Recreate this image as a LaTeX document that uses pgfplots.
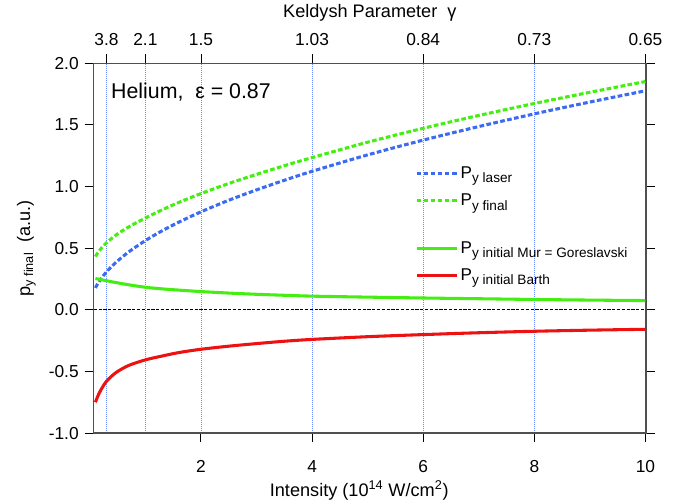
\documentclass[border=0pt]{standalone}
\usepackage{fontspec}
\setmainfont{Liberation Sans}
\usepackage{pgfplots}
\usepackage{pgfplotstable}
\pgfplotsset{compat=1.18}
\usetikzlibrary{calc}

\definecolor{cblue}{HTML}{3A6BF0}
\definecolor{cgreen}{HTML}{44EE11}
\definecolor{cred}{HTML}{EE1111}
\definecolor{cgrid}{HTML}{6A88FF}
\definecolor{cframe}{HTML}{505050}

% intensity (1e14 W/cm2), p_y laser, p_y final, p_y initial (Mur), p_y initial (Barth)
\pgfplotstableread{
I     laser  final  mur    barth
0.10  0.178  0.432  0.254  -0.750
0.15  0.218  0.468  0.250  -0.694
0.20  0.251  0.496  0.245  -0.649
0.29  0.303  0.540  0.237  -0.585
0.40  0.355  0.582  0.227  -0.535
0.50  0.397  0.616  0.219  -0.500
0.70  0.470  0.673  0.203  -0.451
1.00  0.562  0.745  0.183  -0.406
1.30  0.641  0.811  0.170  -0.375
1.60  0.711  0.871  0.160  -0.347
2.00  0.795  0.943  0.148  -0.320
2.50  0.889  1.025  0.136  -0.295
3.00  0.973  1.099  0.126  -0.274
3.50  1.051  1.169  0.118  -0.255
4.00  1.124  1.235  0.111  -0.240
5.00  1.257  1.360  0.103  -0.218
6.00  1.377  1.473  0.096  -0.201
7.00  1.487  1.577  0.090  -0.186
8.00  1.590  1.674  0.084  -0.174
9.00  1.686  1.765  0.079  -0.165
10.00 1.777  1.852  0.075  -0.158
}\pytab

\begin{document}
\begin{tikzpicture}
\pgfplotsset{
  common/.style={
    width=414.2pt, height=277.3pt, scale only axis,
    xmin=0.07, xmax=10.01, ymin=-1, ymax=2,
    tick align=outside, major tick length=6.75pt,
    every tick/.style={black, line width=0.7pt},
    axis line style={cframe, line width=0.9pt},
    tick label style={font=\fontsize{13}{15}\selectfont},
    label style={font=\fontsize{13.6}{16}\selectfont},
  },
}
% top axis: Keldysh parameter and grid lines
\begin{axis}[common,
  axis x line*=top, axis y line=none,
  xtick={0.3,1,2,4,6,8,10},
  xticklabels={3.8,2.1,1.5,1.03,0.84,0.73,0.65},
  xticklabel shift=3pt,
  xmajorgrids,
  grid style={cgrid, line width=0.5pt, dash pattern=on 0.5pt off 1pt},
  xlabel={Keldysh Parameter\ \ γ},
  xlabel style={at={(axis description cs:0.5,1)}, anchor=center, yshift=38pt},
]
\addplot[draw=none, forget plot] coordinates {(1,0)};
\end{axis}

\begin{axis}[common, name=main,
  xtick={2,4,6,8,10}, xticklabels={2,4,6,8,10}, xtick pos=bottom,
  xticklabel shift=10pt,
  ytick={-1,-0.5,0,0.5,1,1.5,2},
  yticklabels={-1.0,-0.5,0.0,0.5,1.0,1.5,2.0},
  ytick pos=both, yticklabel pos=left, yticklabel shift=1pt,
  xlabel={Intensity (10\textsuperscript{14} W/cm\textsuperscript{2})},
  xlabel style={at={(axis description cs:0.5,0)}, anchor=center, yshift=-42.75pt, xshift=-8pt},
  ylabel={p\textsubscript{y final}\ \ (a.u.)},
  ylabel style={at={(axis description cs:-0.122,0.5)}, anchor=center},
  legend image code/.code={\draw[#1] (0pt,0pt) -- (30pt,0pt);},
  legend style={at={(axis description cs:0.574,0.735)}, anchor=north west,
    draw=none, fill=none, row sep=6pt,
    font=\fontsize{12.8}{14}\selectfont},
  legend cell align=left,
]
\addplot[black, line width=0.6pt, dash pattern=on 2.4pt off 1.2pt, forget plot]
  coordinates {(0.07,0) (10.01,0)};
\addplot[cblue, line width=2.3pt, dash pattern=on 3.5pt off 1.8pt, smooth]
  table[x=I, y=laser] {\pytab};
\addlegendentry{P\textsubscript{\fontsize{10.2}{12}\selectfont y laser}}
\addplot[cgreen, line width=2.3pt, dash pattern=on 3.5pt off 1.8pt, smooth]
  table[x=I, y=final] {\pytab};
\addlegendentry{P\textsubscript{\fontsize{10.2}{12}\selectfont y final}}
\addlegendimage{empty legend}
\addlegendentry{\rule{0pt}{4pt}}
\addplot[cgreen, line width=2.3pt, smooth]
  table[x=I, y=mur] {\pytab};
\addlegendentry{P\textsubscript{\fontsize{10.2}{12}\selectfont y initial Mur = Goreslavski}}
\addplot[cred, line width=2.3pt, smooth]
  table[x=I, y=barth] {\pytab};
\addlegendentry{P\textsubscript{\fontsize{10.2}{12}\selectfont y initial Barth}}
\node[anchor=west, inner sep=0pt, font=\fontsize{16}{19}\selectfont] at (axis cs:0.38,1.767) {Helium,\ \ ε = 0.87};
\end{axis}

\pgfresetboundingbox
\path[use as bounding box] ($(main.south west)+(-70.3pt,-52.5pt)$) rectangle ($(main.north east)+(26.25pt,47.5pt)$);
\end{tikzpicture}
\end{document}
